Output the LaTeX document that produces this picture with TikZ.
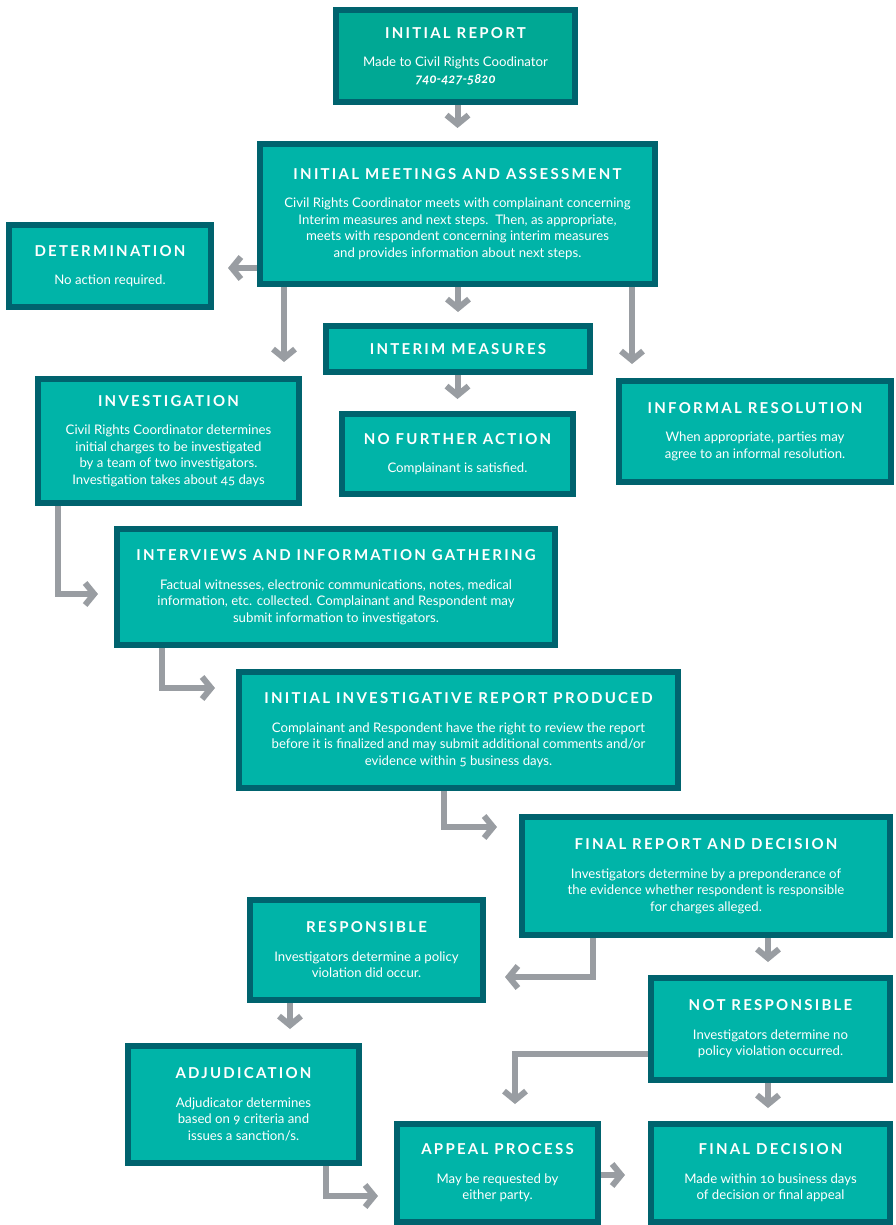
\documentclass[tikz,border=0pt]{standalone}
\usepackage{fontspec}
\setmainfont{Lato}[Numbers=OldStyle]
\newfontfamily\ttlfont{Lato}[LetterSpace=15]
\usetikzlibrary{arrows.meta,backgrounds}
\pgfdeclarelayer{canvas}
\pgfsetlayers{canvas,background,main}
\definecolor{tealfill}{HTML}{00B4A8}
\definecolor{tealir}{HTML}{00A894}
\definecolor{tealborder}{HTML}{00636E}
\definecolor{arrowgray}{HTML}{999DA2}
\newcommand\bdy{\fontsize{13.2}{16.5}\selectfont}
\newcommand\ttl[1]{{\ttlfont\bfseries\fontsize{15}{16}\selectfont #1}}
\tikzset{
  box/.style={draw=tealborder, fill=tealfill, line width=6pt, text=white,
    align=center, inner sep=0pt, font=\bdy},
  sz/.style 2 args={minimum width=#1pt, minimum height=#2pt},
  arr/.style={draw=arrowgray, line width=6pt,
    -{Straight Barb[length=9pt,width=22pt]}, shorten >=13pt},
}
\begin{document}
\begin{tikzpicture}[x=1pt,y=-1pt]
\begin{pgfonlayer}{canvas}
\fill[white] (0,0) rectangle (896,1225);
\end{pgfonlayer}
\useasboundingbox (0,0) rectangle (896,1225);

\node[box, fill=tealir, sz={239}{92}] (ir) at (455.5,56)
  {\ttl{INITIAL REPORT}\\[12pt]Made to Civil Rights Coodinator\\\textbf{\textit{740-427-5820}}};
\node[box, sz={395}{140}] (ima) at (457.5,214)
  {\ttl{INITIAL MEETINGS AND ASSESSMENT}\\[12pt]Civil Rights Coordinator meets with complainant concerning\\Interim measures and next steps.\ \ Then, as appropriate,\\meets with respondent concerning interim measures\\and provides information about next steps.};
\node[box, sz={202}{82}] (det) at (110,266)
  {\ttl{DETERMINATION}\\[12pt]No action required.};
\node[box, sz={264}{46}] (im) at (458,349)
  {\ttl{INTERIM MEASURES}};
\node[box, sz={231}{80}] (nfa) at (457.5,454)
  {\ttl{NO FURTHER ACTION}\\[12pt]Complainant is satisfied.};
\node[box, sz={272}{101}] (inf) at (755,431.5)
  {\ttl{INFORMAL RESOLUTION}\\[12pt]When appropriate, parties may\\agree to an informal resolution.};
\node[box, sz={261}{124}] (inv) at (168.5,441)
  {\ttl{INVESTIGATION}\\[12pt]Civil Rights Coordinator determines\\initial charges to be investigated\\by a team of two investigators.\\Investigation takes about 45 days};
\node[box, sz={438}{116}] (intv) at (336,587)
  {\ttl{INTERVIEWS AND INFORMATION GATHERING}\\[12pt]Factual witnesses, electronic communications, notes, medical\\information, etc. collected. Complainant and Respondent may\\submit information to investigators.};
\node[box, sz={439}{116}] (iir) at (458.5,730)
  {\ttl{INITIAL INVESTIGATIVE REPORT PRODUCED}\\[12pt]Complainant and Respondent have the right to review the report\\before it is finalized and may submit additional comments and/or\\evidence within 5 business days.};
\node[box, sz={368}{118}] (frd) at (706,876)
  {\ttl{FINAL REPORT AND DECISION}\\[12pt]Investigators determine by a preponderance of\\the evidence whether respondent is responsible\\for charges alleged.};
\node[box, sz={233}{100}] (resp) at (366.5,950)
  {\ttl{RESPONSIBLE}\\[12pt]Investigators determine a policy\\violation did occur.};
\node[box, sz={239}{102}] (nr) at (770.5,1029)
  {\ttl{NOT RESPONSIBLE}\\[12pt]Investigators determine no\\policy violation occurred.};
\node[box, sz={231}{117}] (adj) at (243.5,1104.5)
  {\ttl{ADJUDICATION}\\[12pt]Adjudicator determines\\based on 9 criteria and\\issues a sanction/s.};
\node[box, sz={201}{98}] (ap) at (497.5,1173)
  {\ttl{APPEAL PROCESS}\\[12pt]May be requested by\\either party.};
\node[box, sz={239}{98}] (fd) at (770.5,1173)
  {\ttl{FINAL DECISION}\\[12pt]Made within 10 business days\\of decision or final appeal};

\coordinate (k1) at (0,268);
\coordinate (k2) at (284,0);
\coordinate (k3) at (632,0);
\coordinate (k4) at (58,594);
\coordinate (k5) at (162,688);
\coordinate (k6) at (444,827);
\coordinate (k7) at (593,977);
\coordinate (k8) at (768,0);
\coordinate (k9) at (290,0);
\coordinate (k10) at (515,1054);
\coordinate (k11) at (326,1196);
\coordinate (k12) at (0,1175);

\begin{pgfonlayer}{background}
\draw[arr] (ir.south -| ima.north) -- (ima.north);
\draw[arr, shorten >=14pt] (ima.west |- k1) -- (det.east |- k1);
\draw[arr, shorten >=11pt] (ima.south -| im.north) -- (im.north);
\draw[arr, shorten >=14pt] (ima.south -| k2) -- (inv.north -| k2);
\draw[arr, shorten >=14pt] (ima.south -| k3) -- (inf.north -| k3);
\draw[arr, shorten >=12pt] (im.south -| nfa.north) -- (nfa.north);
\draw[arr, shorten >=16pt] (inv.south -| k4) |- (intv.west |- k4);
\draw[arr, shorten >=21pt] (intv.south -| k5) |- (iir.west |- k5);
\draw[arr, shorten >=22pt] (iir.south -| k6) |- (frd.west |- k6);
\draw[arr, shorten >=19pt] (frd.south -| k7) |- (resp.east |- k7);
\draw[arr] (frd.south -| k8) -- (nr.north -| k8);
\draw[arr, shorten >=14pt] (resp.south -| k9) -- (adj.north -| k9);
\draw[arr, shorten >=17pt] (nr.west |- k10) -| (ap.north -| k10);
\draw[arr] (nr.south -| k8) -- (fd.north -| k8);
\draw[arr, shorten >=16pt] (adj.south -| k11) |- (ap.west |- k11);
\draw[arr, shorten >=23pt] (ap.east |- k12) -- (fd.west |- k12);
\end{pgfonlayer}
\end{tikzpicture}
\end{document}
